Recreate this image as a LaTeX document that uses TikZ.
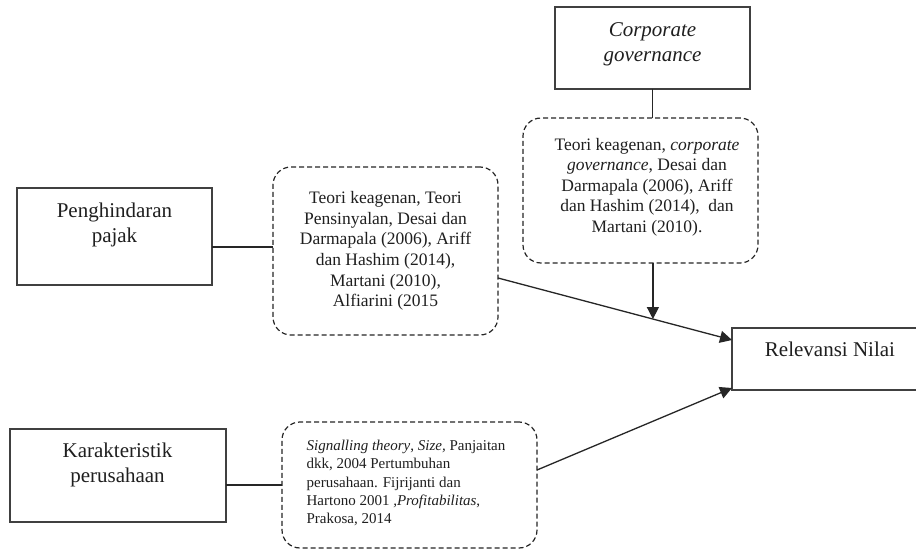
\documentclass[tikz,border=0pt]{standalone}
\usepackage{fontspec}
\setmainfont{Liberation Serif}
\usetikzlibrary{arrows.meta,calc}
\begin{document}
\begin{tikzpicture}[x=1pt,y=-1pt,
  sbox/.style={draw=black!75, line width=1.4pt, inner sep=0pt, outer sep=0pt},
  dbox/.style={draw=black!85, line width=1.2pt, dash pattern=on 5pt off 3pt, rounded corners=18pt, inner sep=0pt, outer sep=0pt},
  txtbig/.style={font=\fontsize{21}{25}\selectfont, text=black!88, align=center, inner sep=0pt},
  txtmid/.style={font=\fontsize{17.5}{20.6}\selectfont, text=black!88, align=center},
  txtsmall/.style={font=\fontsize{15}{18.3}\selectfont, text=black!88, align=left},
  conn/.style={draw=black!85, line width=1.3pt},
  arr/.style={conn, -{Triangle[length=12pt,width=12pt]}}]
\useasboundingbox (0,0) rectangle (916,556);
\clip (0,0) rectangle (916,556);
\fill[white] (0,0) rectangle (916,556);

\node[sbox, minimum width=195, minimum height=97] (pp) at (114.5,236.5) {};
\node[txtbig] (ppt) at (114.5,224.5) {Penghindaran\\pajak};
\node[sbox, minimum width=216, minimum height=93] (kp) at (118,475.5) {};
\node[txtbig] (kpt) at (117.5,465) {Karakteristik\\perusahaan};
\node[sbox, minimum width=195, minimum height=82] (cg) at (652.5,48) {};
\node[txtbig] (cgt) at (652.5,44.5) {\textit{Corporate}\\\textit{governance}};
\node[sbox, minimum width=196, minimum height=62] (rn) at (830,359) {};
\node[txtbig] (rnt) at (830,349) {Relevansi Nilai};

\node[dbox, txtmid, minimum width=225, minimum height=168] (tk) at (385.5,251)
  {Teori keagenan, Teori\\Pensinyalan, Desai dan\\Darmapala (2006), Ariff\\dan Hashim (2014),\\Martani (2010),\\Alfiarini (2015};
\node[dbox, minimum width=235, minimum height=145] (cgd) at (640.5,190.5) {};
\node[txtmid] (cgdt) at (647,187)
  {Teori keagenan, \textit{corporate}\\\textit{governance}, Desai dan\\Darmapala (2006), Ariff\\dan Hashim (2014),\ \ dan\\Martani (2010).};
\node[dbox, minimum width=255, minimum height=126] (bd) at (409.5,485) {};
\node[txtsmall] (bdt) at (406,483)
  {\textit{Signalling theory}, \textit{Size,} Panjaitan\\dkk, 2004 Pertumbuhan\\perusahaan. Fijrijanti dan\\Hartono 2001 \textit{,Profitabilitas},\\Prakosa, 2014};

\coordinate (ppout) at ([yshift=-10.5pt]pp.east);
\draw[conn] (ppout) -- (ppout -| tk.west);
\draw[conn] (kp.east |- bd.west) -- (bd.west);
\draw[conn] (cg.south) -- (cg.south |- cgd.north);

\coordinate (tkout) at ([yshift=-27pt]tk.east);
\coordinate (rnin1) at ([yshift=-12pt]rn.north west);
\draw[arr] (tkout) -- (rnin1);
\path (tkout) -- (rnin1) coordinate[pos=0.662] (hit);
\draw[arr] (hit |- cgd.south) -- (hit);

\coordinate (bdout) at ([yshift=15pt]bd.east);
\coordinate (rnin2) at ([yshift=2pt]rn.south west);
\draw[arr] (bdout) -- (rnin2);
\end{tikzpicture}
\end{document}
